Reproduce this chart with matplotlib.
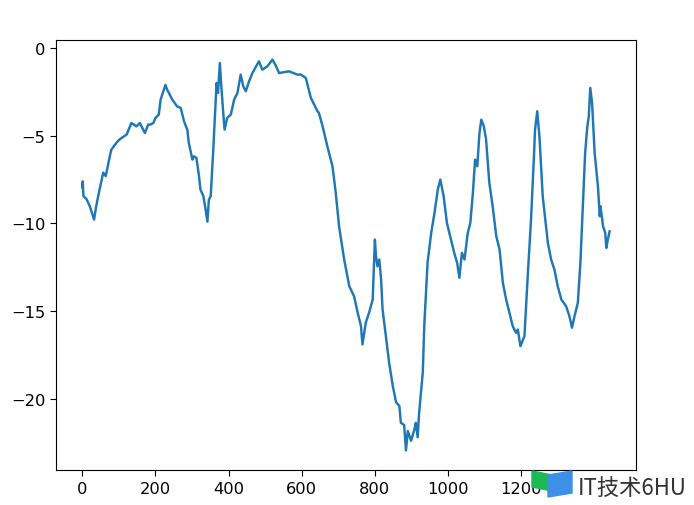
import numpy as np
import matplotlib.pyplot as plt
from matplotlib.patches import Polygon

# step index and walk value
steps = [0, 1, 3, 11, 20, 32, 38, 47, 57, 64, 75, 79, 93, 102, 121, 134, 148, 157,
         171, 180, 186, 194, 200, 209, 214, 227, 232, 246, 259, 269, 278, 287, 291,
         301, 305, 312, 319, 323, 331, 337, 342, 346, 351, 358, 367, 371, 376, 380,
         386, 389, 396, 406, 415, 424, 433, 440, 447, 456, 465, 483, 492, 506, 520,
         529, 538, 565, 588, 597, 611, 625, 643, 647, 657, 670, 684, 693, 702, 716,
         730, 743, 753, 762, 766, 775, 784, 794, 800, 803, 807, 812, 817, 821, 830,
         839, 849, 858, 867, 871, 880, 885, 890, 899, 908, 912, 917, 921, 931, 935,
         944, 954, 963, 972, 979, 988, 997, 1006, 1017, 1025, 1031, 1038, 1045, 1054,
         1061, 1068, 1074, 1080, 1086, 1091, 1098, 1104, 1113, 1122, 1132, 1141, 1150,
         1159, 1168, 1177, 1186, 1191, 1198, 1209, 1218, 1227, 1235, 1238, 1244, 1250,
         1255, 1259, 1264, 1273, 1282, 1291, 1300, 1310, 1323, 1332, 1339, 1346, 1355,
         1362, 1369, 1375, 1381, 1385, 1389, 1394, 1401, 1410, 1415, 1417, 1424, 1430,
         1433, 1437, 1442]
walk = [-7.95, -7.6, -8.45, -8.6, -9.0, -9.78, -9.0, -8.07, -7.1, -7.3, -6.17, -5.8,
        -5.4, -5.2, -4.93, -4.27, -4.46, -4.27, -4.84, -4.36, -4.36, -4.27, -3.98,
        -3.79, -2.94, -2.1, -2.37, -2.94, -3.32, -3.41, -4.17, -4.65, -5.4, -6.36,
        -6.17, -6.26, -7.3, -8.07, -8.45, -9.2, -9.9, -8.64, -8.45, -5.79, -1.98,
        -2.56, -0.85, -2.18, -3.89, -4.65, -3.98, -3.79, -2.94, -2.56, -1.51, -2.18,
        -2.46, -1.89, -1.42, -0.75, -1.23, -1.04, -0.65, -1.0, -1.42, -1.32, -1.51,
        -1.5, -1.7, -2.84, -3.6, -3.7, -4.46, -5.6, -6.74, -8.26, -10.16, -12.06,
        -13.58, -14.15, -15.1, -15.86, -16.9, -15.67, -15.1, -14.34, -10.92, -11.87,
        -12.44, -12.06, -13.2, -14.9, -16.43, -17.95, -19.28, -20.2, -20.42, -21.37,
        -21.5, -22.95, -21.84, -22.4, -21.75, -21.37, -22.2, -20.8, -18.5, -15.86,
        -12.25, -10.54, -9.4, -8.07, -7.5, -8.45, -9.97, -10.73, -11.68, -12.25,
        -13.1, -11.68, -12.06, -10.54, -9.97, -8.26, -6.36, -6.74, -4.84, -4.08,
        -4.46, -5.2, -7.69, -9.0, -10.73, -11.49, -13.39, -14.34, -15.1, -15.86,
        -16.24, -16.05, -17.0, -16.43, -13.0, -9.78, -6.17, -4.65, -3.6, -5.03, -6.93,
        -8.45, -9.4, -11.1, -12.06, -12.63, -13.58, -14.34, -14.72, -15.29, -15.95,
        -15.29, -14.53, -12.25, -8.83, -5.98, -4.46, -3.89, -2.27, -3.13, -5.98,
        -7.88, -9.59, -9.02, -10.16, -10.54, -11.4, -10.92, -10.45]

plt.rcParams['font.size'] = 11.7
plt.rcParams['xtick.major.size'] = 4.1
plt.rcParams['ytick.major.size'] = 4.1

fig = plt.figure(figsize=(6.94, 5.06), dpi=100)
ax = fig.add_axes([56 / 694, 35 / 506, 580 / 694, 430 / 506])
ax.plot(steps, walk, color='#1f77b4', linewidth=1.75)
ax.set_xticks([0, 200, 400, 600, 800, 1000, 1200])
ax.set_yticks([0, -5, -10, -15, -20])

# watermark in the bottom right corner
fig.patches.append(Polygon([[532 / 694, 34 / 506], [552 / 694, 30 / 506],
                            [552 / 694, 14 / 506], [532 / 694, 18 / 506]],
                           closed=True, color='#1db954', transform=fig.transFigure))
fig.patches.append(Polygon([[548 / 694, 30 / 506], [572 / 694, 34 / 506],
                            [572 / 694, 12 / 506], [548 / 694, 8 / 506]],
                           closed=True, color='#3d8fe8', transform=fig.transFigure))
fig.text(578 / 694, 18 / 506, 'IT技术6HU', fontsize=16, color='#333333',
         family=['Noto Sans CJK SC', 'DejaVu Sans'], va='center')

fig.savefig('out.png')
